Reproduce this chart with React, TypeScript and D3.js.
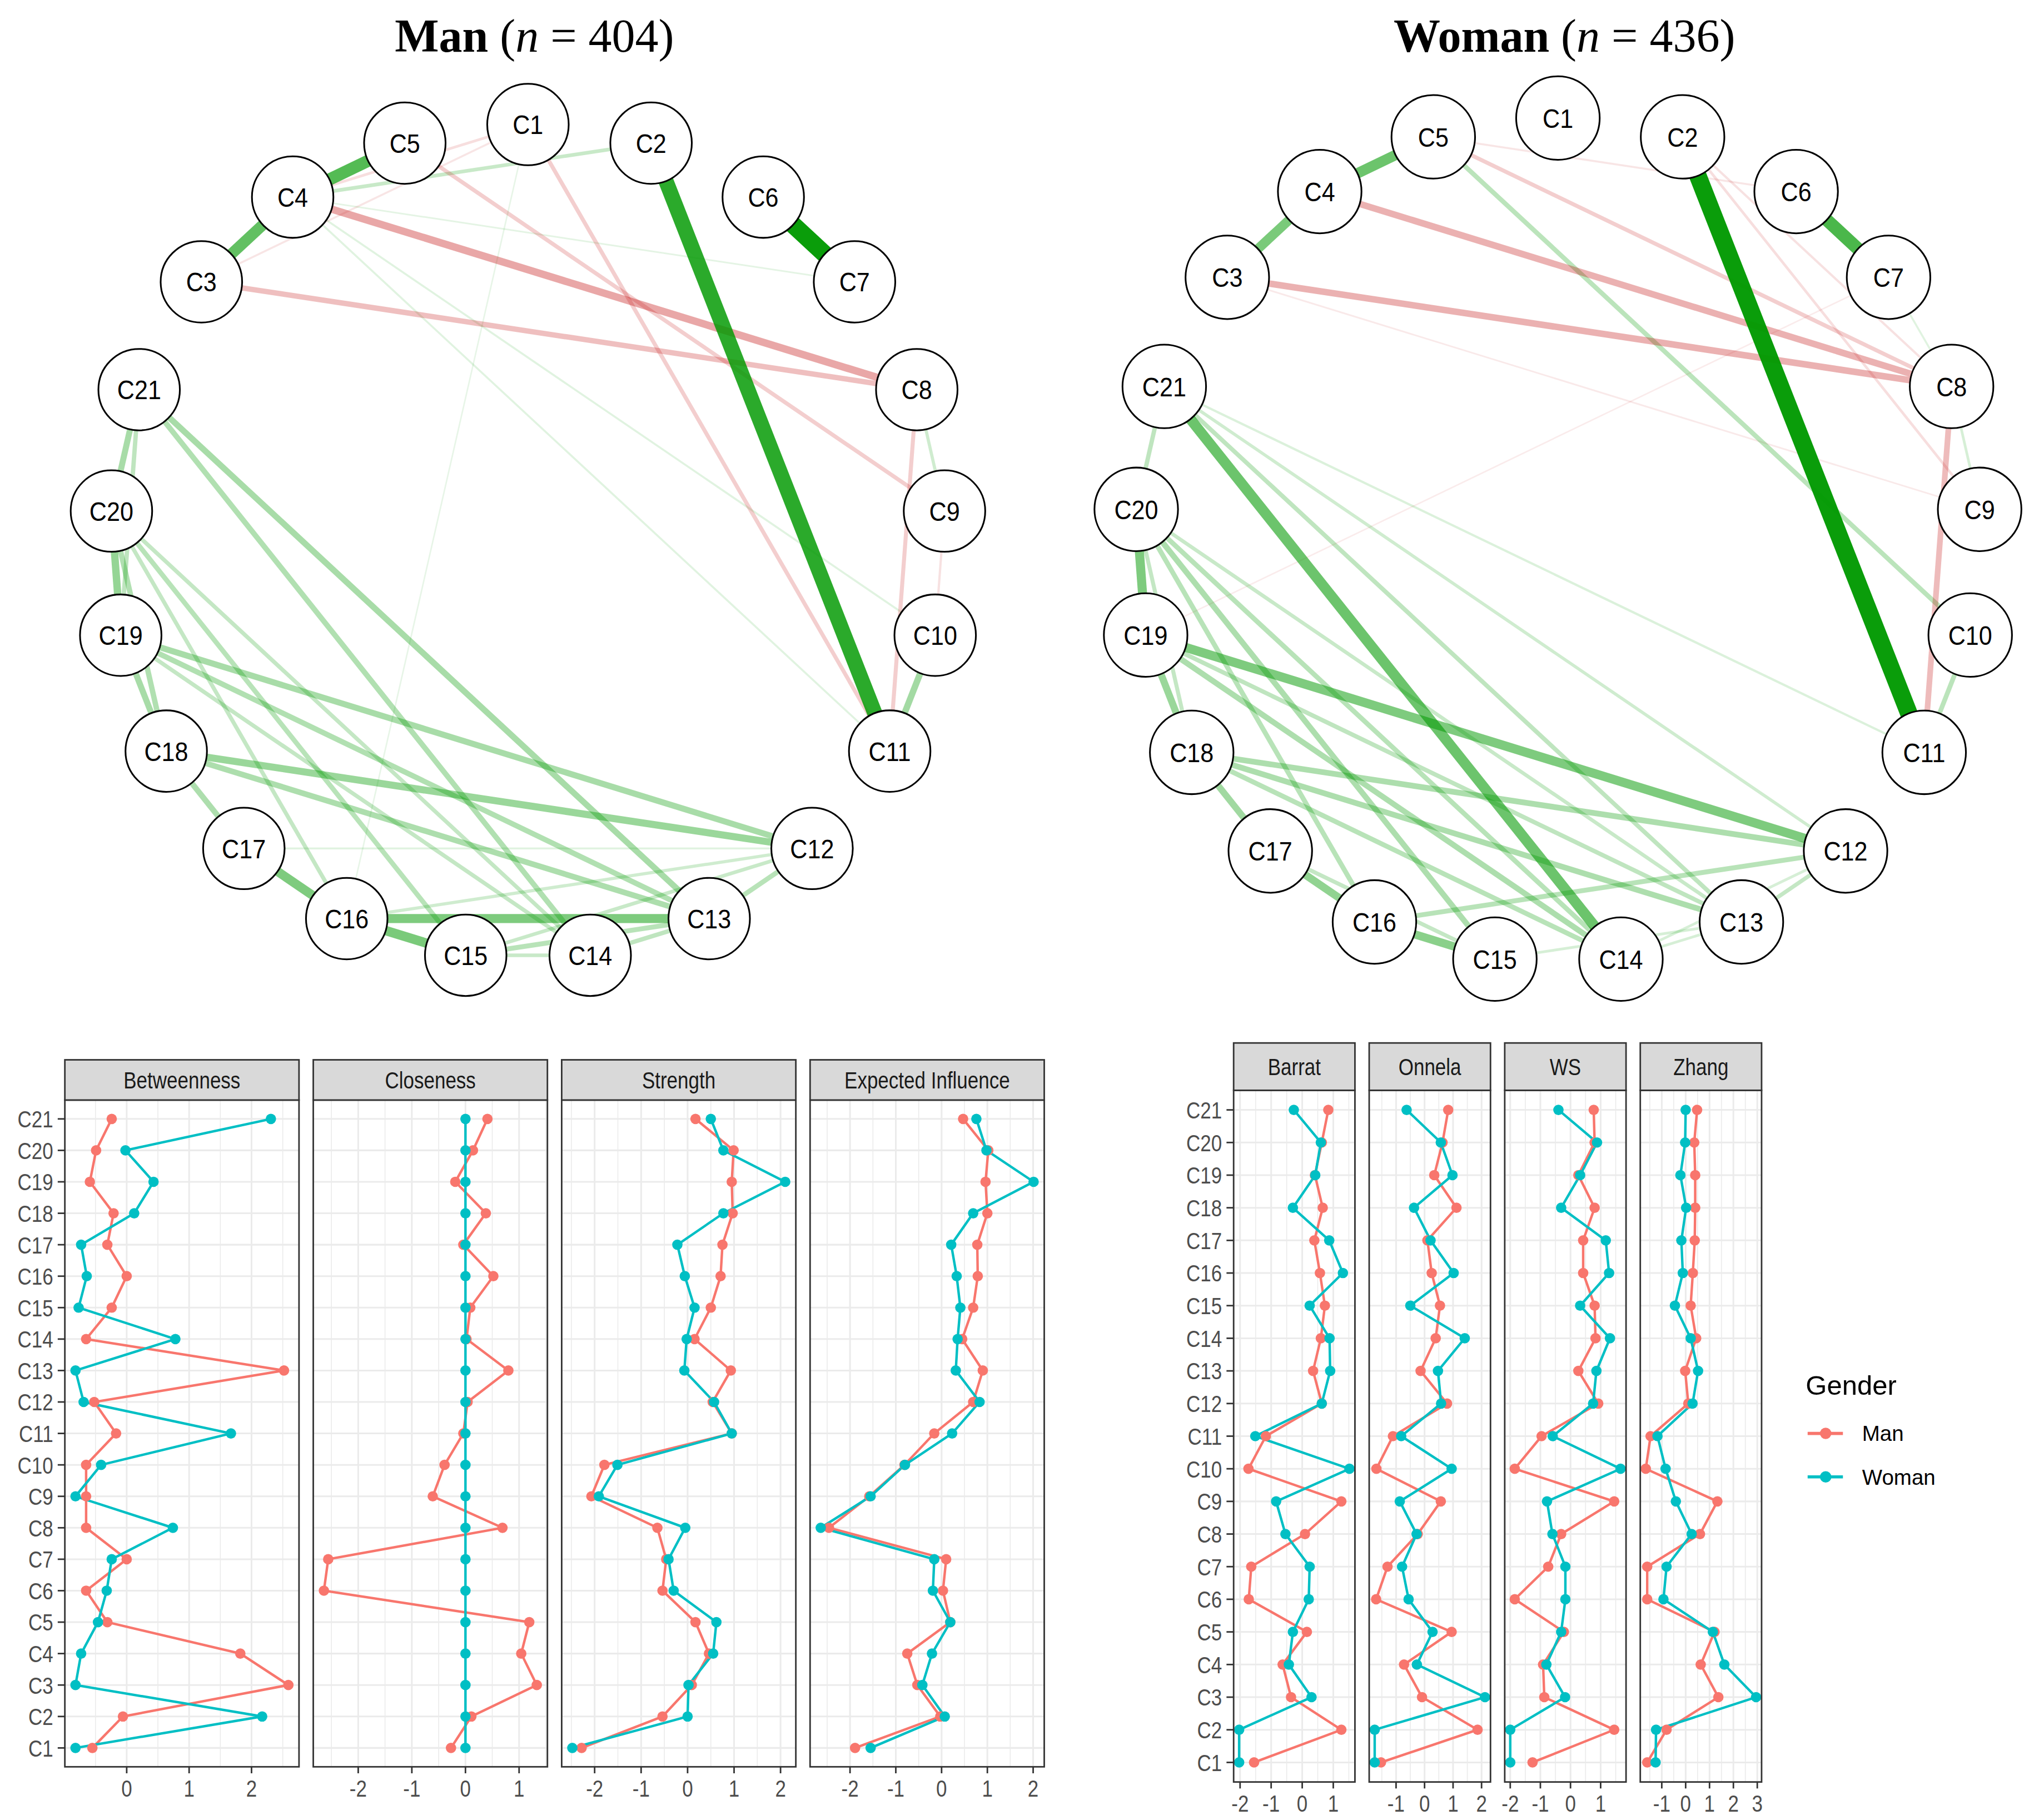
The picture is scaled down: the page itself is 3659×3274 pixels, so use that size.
import * as d3 from "d3";

// canvas: drawn in the reference's display units, scaled up to the 3659x3274 page
const W = 3659;
const H = 3274;
const VW = 1568;
const VH = 1403;

const SANS = "'Liberation Sans', Arial, Helvetica, sans-serif";
const SERIF = "'Liberation Serif', 'Times New Roman', serif";
const MAN_COL = "#F8766D";
const WOMAN_COL = "#00BFC4";
const POS_COL = "#009900";
const NEG_COL = "#BF0000";

const NODES = [
  "C1", "C2", "C3", "C4", "C5", "C6", "C7", "C8", "C9", "C10", "C11",
  "C12", "C13", "C14", "C15", "C16", "C17", "C18", "C19", "C20", "C21",
];

// order of the nodes around the circle, clockwise from the top
const CIRCLE_ORDER = [
  "C1", "C2", "C6", "C7", "C8", "C9", "C10", "C11", "C12", "C13", "C14",
  "C15", "C16", "C17", "C18", "C19", "C20", "C21", "C3", "C4", "C5",
];

type Edge = [string, string, number];

const MAN_EDGES: Edge[] = [
  ["C6", "C7", 1.0],
  ["C2", "C11", 0.86],
  ["C4", "C5", 0.68],
  ["C3", "C4", 0.62],
  ["C15", "C16", 0.52],
  ["C13", "C16", 0.5],
  ["C16", "C17", 0.5],
  ["C18", "C12", 0.38],
  ["C19", "C12", 0.32],
  ["C21", "C13", 0.32],
  ["C21", "C14", 0.28],
  ["C10", "C11", 0.34],
  ["C20", "C21", 0.32],
  ["C19", "C20", 0.4],
  ["C18", "C19", 0.32],
  ["C17", "C18", 0.3],
  ["C20", "C18", 0.28],
  ["C21", "C19", 0.22],
  ["C20", "C15", 0.25],
  ["C20", "C14", 0.2],
  ["C19", "C13", 0.28],
  ["C18", "C13", 0.3],
  ["C19", "C14", 0.2],
  ["C20", "C16", 0.2],
  ["C13", "C12", 0.25],
  ["C14", "C13", 0.22],
  ["C15", "C13", 0.25],
  ["C12", "C15", 0.18],
  ["C12", "C16", 0.15],
  ["C17", "C12", 0.08],
  ["C14", "C15", 0.18],
  ["C8", "C9", 0.15],
  ["C2", "C4", 0.18],
  ["C4", "C11", 0.08],
  ["C4", "C10", 0.08],
  ["C4", "C7", 0.06],
  ["C1", "C16", 0.05],
  ["C4", "C8", -0.4],
  ["C3", "C8", -0.28],
  ["C8", "C11", -0.2],
  ["C1", "C11", -0.2],
  ["C5", "C9", -0.2],
  ["C9", "C10", -0.1],
  ["C1", "C4", -0.12],
  ["C1", "C3", -0.08],
];

const WOMAN_EDGES: Edge[] = [
  ["C2", "C11", 1.0],
  ["C6", "C7", 0.72],
  ["C4", "C5", 0.58],
  ["C3", "C4", 0.52],
  ["C21", "C14", 0.58],
  ["C19", "C12", 0.5],
  ["C15", "C16", 0.45],
  ["C16", "C17", 0.42],
  ["C19", "C20", 0.5],
  ["C18", "C19", 0.38],
  ["C17", "C18", 0.35],
  ["C20", "C21", 0.22],
  ["C10", "C11", 0.24],
  ["C5", "C10", 0.24],
  ["C21", "C11", 0.1],
  ["C21", "C13", 0.22],
  ["C21", "C12", 0.15],
  ["C18", "C12", 0.3],
  ["C18", "C13", 0.3],
  ["C18", "C14", 0.25],
  ["C19", "C13", 0.22],
  ["C19", "C14", 0.3],
  ["C20", "C15", 0.3],
  ["C20", "C14", 0.25],
  ["C20", "C13", 0.18],
  ["C20", "C16", 0.25],
  ["C20", "C18", 0.2],
  ["C16", "C12", 0.25],
  ["C13", "C12", 0.2],
  ["C14", "C12", 0.12],
  ["C15", "C13", 0.12],
  ["C14", "C13", 0.12],
  ["C17", "C15", 0.2],
  ["C8", "C9", 0.12],
  ["C7", "C8", 0.08],
  ["C4", "C8", -0.35],
  ["C3", "C8", -0.35],
  ["C5", "C8", -0.2],
  ["C8", "C11", -0.3],
  ["C5", "C6", -0.08],
  ["C2", "C9", -0.12],
  ["C2", "C8", -0.1],
  ["C3", "C9", -0.06],
  ["C7", "C19", -0.05],
];

const CENTRALITY = ["Betweenness", "Closeness", "Strength", "Expected Influence"];
const CLUSTERING = ["Barrat", "Onnela", "WS", "Zhang"];
const GENDERS = ["Man", "Woman"];

// standardised values, in node order C1..C21
const BETWEENNESS_MAN = [-0.55, -0.06, 2.59, 1.82, -0.31, -0.65, 0.0, -0.65, -0.65, -0.65, -0.17, -0.52, 2.52, -0.65, -0.24, 0.0, -0.31, -0.21, -0.59, -0.49, -0.24];
const BETWEENNESS_WOMAN = [-0.82, 2.17, -0.82, -0.73, -0.46, -0.32, -0.24, 0.74, -0.82, -0.41, 1.67, -0.69, -0.82, 0.78, -0.77, -0.64, -0.73, 0.12, 0.43, -0.02, 2.31];
const CLOSENESS_MAN = [-0.27, 0.11, 1.33, 1.04, 1.19, -2.64, -2.56, 0.69, -0.61, -0.39, -0.04, 0.04, 0.8, 0.02, 0.09, 0.52, -0.04, 0.38, -0.19, 0.14, 0.41];
const CLOSENESS_WOMAN = [0, 0, 0, 0, 0, 0, 0, 0, 0, 0, 0, 0, 0, 0, 0, 0, 0, 0, 0, 0, 0];
const STRENGTH_MAN = [-2.28, -0.54, 0.09, 0.46, 0.17, -0.54, -0.46, -0.65, -2.07, -1.79, 0.95, 0.54, 0.93, 0.15, 0.5, 0.71, 0.75, 0.97, 0.95, 0.99, 0.17];
const STRENGTH_WOMAN = [-2.48, 0.0, 0.02, 0.55, 0.62, -0.3, -0.41, -0.05, -1.91, -1.51, 0.95, 0.57, -0.07, -0.02, 0.15, -0.06, -0.22, 0.77, 2.1, 0.77, 0.5];
const EI_MAN = [-1.89, -0.03, -0.53, -0.75, 0.19, 0.03, 0.1, -2.46, -1.58, -0.81, -0.16, 0.69, 0.9, 0.45, 0.69, 0.79, 0.78, 1.0, 0.96, 1.02, 0.47];
const EI_WOMAN = [-1.55, 0.07, -0.42, -0.21, 0.19, -0.19, -0.16, -2.64, -1.55, -0.8, 0.23, 0.83, 0.31, 0.35, 0.41, 0.33, 0.21, 0.69, 2.01, 0.98, 0.76];

const BARRAT_MAN = [-1.55, 1.26, -0.36, -0.63, 0.15, -1.72, -1.64, 0.09, 1.26, -1.73, -1.17, 0.63, 0.35, 0.6, 0.73, 0.57, 0.39, 0.66, 0.41, 0.63, 0.84];
const BARRAT_WOMAN = [-2.03, -2.03, 0.3, -0.43, -0.3, 0.21, 0.24, -0.54, -0.84, 1.52, -1.51, 0.63, 0.9, 0.88, 0.24, 1.31, 0.87, -0.3, 0.42, 0.6, -0.27];
const ONNELA_MAN = [-1.53, 1.86, -0.09, -0.72, 0.95, -1.7, -1.3, -0.24, 0.57, -1.69, -1.11, 0.79, -0.14, 0.39, 0.54, 0.25, 0.1, 1.12, 0.34, 0.63, 0.83];
const ONNELA_WOMAN = [-1.75, -1.75, 2.12, -0.27, 0.28, -0.56, -0.79, -0.28, -0.87, 0.95, -0.82, 0.58, 0.47, 1.41, -0.5, 1.02, 0.21, -0.37, 0.98, 0.57, -0.63];
const WS_MAN = [-1.26, 1.45, -0.87, -0.91, -0.22, -1.85, -0.74, -0.31, 1.45, -1.85, -0.96, 0.92, 0.26, 0.83, 0.8, 0.42, 0.42, 0.8, 0.26, 0.8, 0.77];
const WS_WOMAN = [-2.0, -2.0, -0.18, -0.8, -0.31, -0.17, -0.17, -0.6, -0.78, 1.66, -0.59, 0.75, 0.86, 1.31, 0.32, 1.28, 1.17, -0.31, 0.32, 0.88, -0.4];
const ZHANG_MAN = [-1.61, -0.8, 1.37, 0.63, 1.21, -1.61, -1.61, 0.6, 1.33, -1.67, -1.47, 0.11, -0.02, 0.44, 0.21, 0.3, 0.38, 0.4, 0.4, 0.36, 0.48];
const ZHANG_WOMAN = [-1.26, -1.24, 2.95, 1.62, 1.14, -0.93, -0.8, 0.25, -0.41, -0.84, -1.18, 0.29, 0.52, 0.21, -0.45, -0.12, -0.18, 0.02, -0.22, -0.02, 0.0];

const CENTRALITY_VALUES: [number[], number[]][] = [
  [BETWEENNESS_MAN, BETWEENNESS_WOMAN],
  [CLOSENESS_MAN, CLOSENESS_WOMAN],
  [STRENGTH_MAN, STRENGTH_WOMAN],
  [EI_MAN, EI_WOMAN],
];
const CLUSTERING_VALUES: [number[], number[]][] = [
  [BARRAT_MAN, BARRAT_WOMAN],
  [ONNELA_MAN, ONNELA_WOMAN],
  [WS_MAN, WS_WOMAN],
  [ZHANG_MAN, ZHANG_WOMAN],
];

const TEXT_SY = 1.22; // axis text in the lower plots is stretched vertically

function Network({
  label,
  n,
  cx,
  cy,
  radius,
  nodeR,
  edges,
}: {
  label: string;
  n: number;
  cx: number;
  cy: number;
  radius: number;
  nodeR: number;
  edges: Edge[];
}) {
  const angle = d3.scaleLinear().domain([0, CIRCLE_ORDER.length]).range([0, 2 * Math.PI]);
  const pos = new Map<string, [number, number]>(
    CIRCLE_ORDER.map((id, i) => [id, [cx + radius * Math.sin(angle(i)), cy - radius * Math.cos(angle(i))]])
  );
  const width = d3.scaleLinear().domain([0, 1]).range([0.5, 13.5]);
  const alphaPos = d3.scaleLinear().domain([0, 1]).range([0.05, 0.96]);
  // negative edges fade faster to pink in the reference
  const alphaNeg = d3.scaleLinear().domain([0, 1]).range([0.04, 0.8]);
  const sorted = [...edges].sort((a, b) => Math.abs(a[2]) - Math.abs(b[2]));

  return (
    <g>
      <text x={cx + 5} y={40} textAnchor="middle" fontFamily={SERIF} fontSize={36} fill="#000">
        <tspan fontWeight="bold">{label}</tspan>
        <tspan>{" ("}</tspan>
        <tspan fontStyle="italic">n</tspan>
        <tspan>{` = ${n})`}</tspan>
      </text>
      {sorted.map(([a, b, w], i) => {
        const pa = pos.get(a)!;
        const pb = pos.get(b)!;
        return (
          <line
            key={i}
            x1={pa[0]}
            y1={pa[1]}
            x2={pb[0]}
            y2={pb[1]}
            stroke={w > 0 ? POS_COL : NEG_COL}
            strokeOpacity={w > 0 ? alphaPos(w) : alphaNeg(-w)}
            strokeWidth={width(Math.abs(w))}
          />
        );
      })}
      {CIRCLE_ORDER.map((id) => {
        const [x, y] = pos.get(id)!;
        return (
          <g key={id}>
            <circle cx={x} cy={y} r={nodeR} fill="#fff" stroke="#000" strokeWidth={1.3} />
            <text
              transform={`translate(${x},${y}) scale(1,1.12)`}
              dy="0.36em"
              textAnchor="middle"
              fontFamily={SANS}
              fontSize={18.5}
              fill="#000"
            >
              {id}
            </text>
          </g>
        );
      })}
    </g>
  );
}

function Facet({
  name,
  x0,
  x1,
  stripTop,
  plotTop,
  plotBottom,
  y,
  values,
  showYAxis,
}: {
  name: string;
  x0: number;
  x1: number;
  stripTop: number;
  plotTop: number;
  plotBottom: number;
  y: d3.ScalePoint<string>;
  values: [number[], number[]];
  showYAxis: boolean;
}) {
  const all = [...values[0], ...values[1]];
  const [lo, hi] = d3.extent(all) as [number, number];
  const pad = (hi - lo) * 0.05;
  const x = d3.scaleLinear().domain([lo - pad, hi + pad]).range([x0, x1]);
  const ticks = x.ticks(5);
  const step = ticks.length > 1 ? ticks[1] - ticks[0] : 1;
  const [d0, d1] = x.domain();
  const minors = [ticks[0] - step / 2, ...ticks.map((t) => t + step / 2)].filter((v) => v >= d0 && v <= d1);
  const line = d3
    .line<number>()
    .x((v) => x(v))
    .y((_, i) => y(NODES[i]) ?? 0);
  const cols = [MAN_COL, WOMAN_COL];
  const labelY = plotBottom + 16.5;

  return (
    <g>
      <rect x={x0} y={plotTop} width={x1 - x0} height={plotBottom - plotTop} fill="#fff" />
      {minors.map((v) => (
        <line key={`m${v}`} x1={x(v)} x2={x(v)} y1={plotTop} y2={plotBottom} stroke="#EBEBEB" strokeWidth={0.7} />
      ))}
      {NODES.map((id) => (
        <line key={id} x1={x0} x2={x1} y1={y(id)} y2={y(id)} stroke="#EBEBEB" strokeWidth={1.3} />
      ))}
      {ticks.map((v) => (
        <line key={`t${v}`} x1={x(v)} x2={x(v)} y1={plotTop} y2={plotBottom} stroke="#EBEBEB" strokeWidth={1.3} />
      ))}
      {values.map((vals, gi) => (
        <path key={gi} d={line(vals) ?? ""} fill="none" stroke={cols[gi]} strokeWidth={1.9} />
      ))}
      {values.map((vals, gi) => (
        <g key={gi}>
          {vals.map((v, i) => (
            <circle key={i} cx={x(v)} cy={y(NODES[i])} r={4} fill={cols[gi]} />
          ))}
        </g>
      ))}
      <rect
        x={x0}
        y={plotTop}
        width={x1 - x0}
        height={plotBottom - plotTop}
        fill="none"
        stroke="#333333"
        strokeWidth={1.2}
      />
      <rect
        x={x0}
        y={stripTop}
        width={x1 - x0}
        height={plotTop - stripTop}
        fill="#D9D9D9"
        stroke="#333333"
        strokeWidth={1.2}
      />
      <text
        transform={`translate(${(x0 + x1) / 2},${(stripTop + plotTop) / 2}) scale(1,${TEXT_SY})`}
        dy="0.36em"
        textAnchor="middle"
        fontFamily={SANS}
        fontSize={15}
        fill="#1A1A1A"
      >
        {name}
      </text>
      {ticks.map((v) => (
        <g key={`x${v}`}>
          <line x1={x(v)} x2={x(v)} y1={plotBottom} y2={plotBottom + 5} stroke="#333333" strokeWidth={1.2} />
          <text
            transform={`translate(${x(v)},${labelY}) scale(1,${TEXT_SY})`}
            dy="0.36em"
            textAnchor="middle"
            fontFamily={SANS}
            fontSize={15}
            fill="#4D4D4D"
          >
            {v < 0 ? `-${Math.abs(v)}` : v}
          </text>
        </g>
      ))}
      {showYAxis &&
        NODES.map((id) => (
          <g key={`y${id}`}>
            <line x1={x0 - 5.5} x2={x0} y1={y(id)} y2={y(id)} stroke="#333333" strokeWidth={1.2} />
            <text
              transform={`translate(${x0 - 9},${y(id)}) scale(1,${TEXT_SY})`}
              dy="0.36em"
              textAnchor="end"
              fontFamily={SANS}
              fontSize={15}
              fill="#4D4D4D"
            >
              {id}
            </text>
          </g>
        ))}
    </g>
  );
}

function Legend({ x, y }: { x: number; y: number }) {
  const cols = [MAN_COL, WOMAN_COL];
  const row = d3.scalePoint<string>().domain(GENDERS).range([y + 30, y + 63.5]);
  return (
    <g>
      <text x={x} y={y} fontFamily={SANS} fontSize={21} fill="#000">
        Gender
      </text>
      {GENDERS.map((g, i) => (
        <g key={g}>
          <line x1={x + 1.5} x2={x + 28.7} y1={row(g)} y2={row(g)} stroke={cols[i]} strokeWidth={2.4} />
          <circle cx={x + 15.4} cy={row(g)} r={4.4} fill={cols[i]} />
          <text x={x + 43.5} y={row(g)} dy="0.36em" fontFamily={SANS} fontSize={16.5} fill="#000">
            {g}
          </text>
        </g>
      ))}
    </g>
  );
}

export default function App() {
  const yLeft = d3.scalePoint<string>().domain([...NODES].reverse()).range([848, 1362]).padding(0.6);
  const yRight = d3.scalePoint<string>().domain([...NODES].reverse()).range([840.5, 1373.7]).padding(0.6);
  const bandLeft = d3.scaleBand<string>().domain(CENTRALITY).range([50, 805]).paddingInner(0.0574);
  const bandRight = d3.scaleBand<string>().domain(CLUSTERING).range([951, 1358]).paddingInner(0.105);

  return (
    <svg
      width={W}
      height={H}
      viewBox={`0 0 ${VW} ${VH}`}
      style={{ position: "absolute", left: 0, top: 0, display: "block" }}
    >
      <rect x={0} y={0} width={VW} height={VH} fill="#fff" />
      <Network label="Man" n={404} cx={407} cy={418} radius={322} nodeR={31.4} edges={MAN_EDGES} />
      <Network label="Woman" n={436} cx={1201} cy={417} radius={326} nodeR={32.2} edges={WOMAN_EDGES} />
      {CENTRALITY.map((name, i) => (
        <Facet
          key={name}
          name={name}
          x0={bandLeft(name)!}
          x1={bandLeft(name)! + bandLeft.bandwidth()}
          stripTop={817}
          plotTop={848}
          plotBottom={1362}
          y={yLeft}
          values={CENTRALITY_VALUES[i]}
          showYAxis={i === 0}
        />
      ))}
      {CLUSTERING.map((name, i) => (
        <Facet
          key={name}
          name={name}
          x0={bandRight(name)!}
          x1={bandRight(name)! + bandRight.bandwidth()}
          stripTop={804}
          plotTop={840.5}
          plotBottom={1373.7}
          y={yRight}
          values={CLUSTERING_VALUES[i]}
          showYAxis={i === 0}
        />
      ))}
      <Legend x={1392} y={1075} />
    </svg>
  );
}
